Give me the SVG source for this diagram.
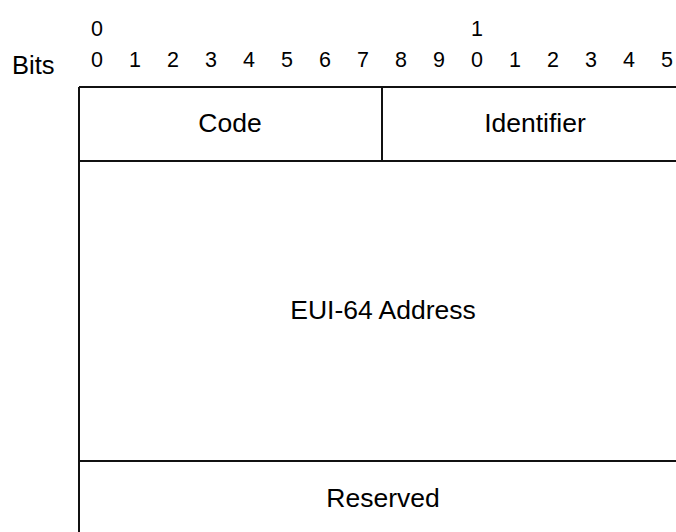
<svg xmlns="http://www.w3.org/2000/svg" width="676" height="532" viewBox="0 0 676 532">
<style>
text{font-family:"Liberation Sans",Arial,sans-serif;fill:#000}
.d{font-size:21.5px;text-anchor:middle}
.l{font-size:26.5px;text-anchor:middle}
.ln{stroke:#111;stroke-width:2;fill:none}
</style>
<rect width="676" height="532" fill="#fff"/>
<g id="header">
<text x="12" y="73.5" style="font-size:25.5px">Bits</text>
<text class="d" x="97" y="36">0</text>
<text class="d" x="477" y="36">1</text>
<text class="d" x="97" y="67">0</text>
<text class="d" x="135" y="67">1</text>
<text class="d" x="173" y="67">2</text>
<text class="d" x="211" y="67">3</text>
<text class="d" x="249" y="67">4</text>
<text class="d" x="287" y="67">5</text>
<text class="d" x="325" y="67">6</text>
<text class="d" x="363" y="67">7</text>
<text class="d" x="401" y="67">8</text>
<text class="d" x="439" y="67">9</text>
<text class="d" x="477" y="67">0</text>
<text class="d" x="515" y="67">1</text>
<text class="d" x="553" y="67">2</text>
<text class="d" x="591" y="67">3</text>
<text class="d" x="629" y="67">4</text>
<text class="d" x="667" y="67">5</text>
</g>
<g id="connectors">
<path class="ln" d="M79 87H686M79 87V540M382 87V161M79 161H686M79 461H686"/>
</g>
<g id="code"><text class="l" x="230" y="131.5">Code</text></g>
<g id="identifier"><text class="l" x="535" y="131.5">Identifier</text></g>
<g id="eui64"><text class="l" x="383" y="319">EUI-64 Address</text></g>
<g id="reserved"><text class="l" x="383" y="507">Reserved</text></g>
</svg>
